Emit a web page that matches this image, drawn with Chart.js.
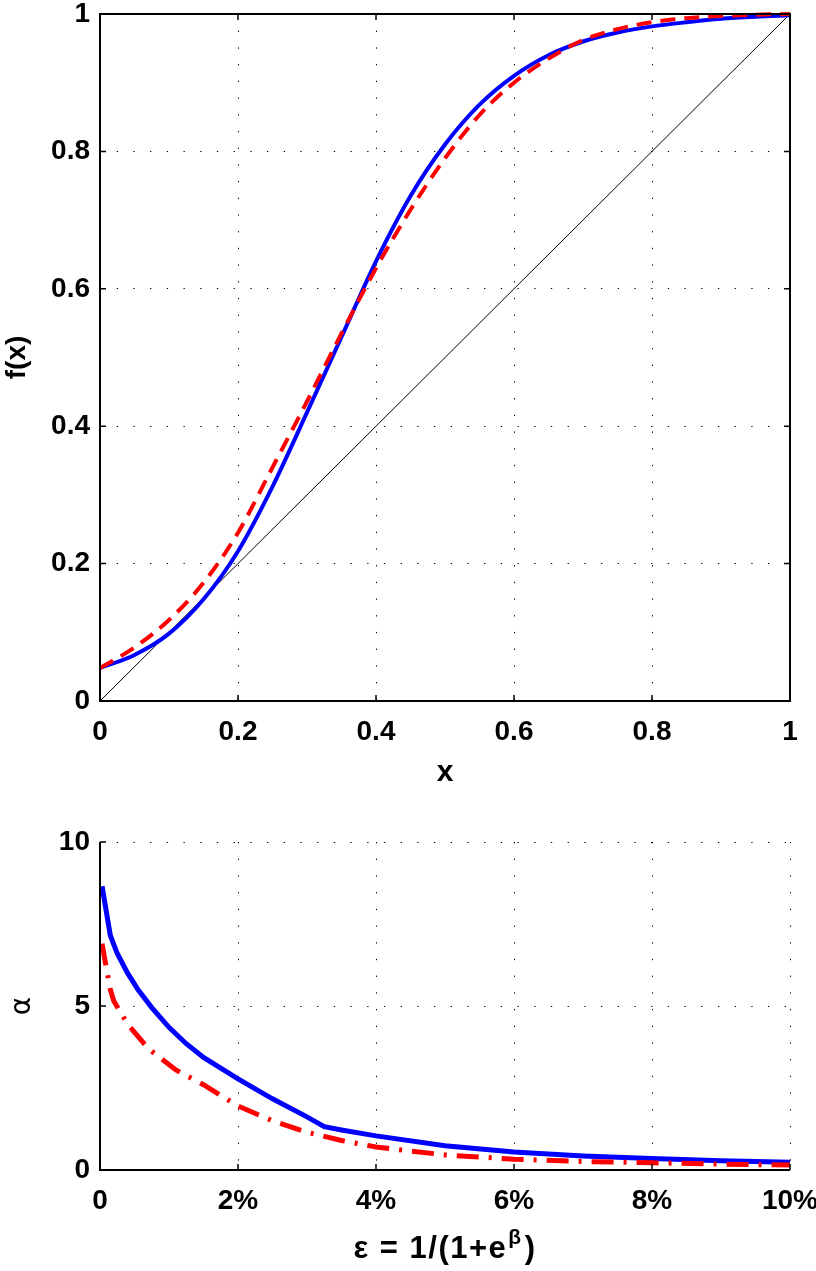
<!DOCTYPE html>
<html><head><meta charset="utf-8">
<script src="https://cdn.jsdelivr.net/npm/chart.js@4.4.0/dist/chart.umd.min.js"></script>
<style>
html,body{margin:0;padding:0;background:#fff;}
#wrap{position:relative;width:816px;height:1271px;overflow:hidden;background:#fff;}
#c1{position:absolute;left:0;top:0;}
#c2{position:absolute;left:0;top:810px;}
</style></head><body>
<div id="wrap"><canvas id="c1" width="816" height="810"></canvas><canvas id="c2" width="816" height="461"></canvas></div>
<script>
// ---- top chart data ----
const topX    = [0,0.05,0.1,0.15,0.2,0.25,0.3,0.35,0.4,0.45,0.5,0.55,0.6,0.65,0.7,0.75,0.8,0.85,0.9,0.95,1];
const topBlue = [0.048,0.067,0.098,0.148,0.218,0.312,0.42,0.53,0.64,0.735,0.81,0.868,0.91,0.94,0.96,0.973,0.982,0.988,0.993,0.996,0.998];
const topRed  = [0.048,0.078,0.118,0.172,0.245,0.34,0.436,0.535,0.63,0.715,0.79,0.853,0.9,0.935,0.962,0.978,0.988,0.994,0.997,0.999,1.0];
const diagX = [0,1];
const diagY = [0,1];
const topTicks = [0,0.2,0.4,0.6,0.8,1];
const topTickLabels = ['0','0.2','0.4','0.6','0.8','1'];
const topXTitle = 'x';
const topYTitle = 'f(x)';

// ---- bottom chart data ----
const epsBlue   = [0.03,0.15,0.25,0.4,0.55,0.75,1.0,1.25,1.5,2.0,2.5,3.0,3.25,3.5,4.0,5.0,6.0,7.0,8.0,9.0,10.0];
const alphaBlue = [8.65,7.15,6.6,6.0,5.5,4.95,4.35,3.85,3.43,2.78,2.17,1.62,1.32,1.22,1.04,0.74,0.55,0.43,0.35,0.28,0.24];
const epsRed    = [0.03,0.08,0.15,0.2,0.4,0.7,1.1,1.5,2.0,2.5,3.0,3.5,4.0,5.0,6.0,7.0,8.0,9.0,10.0];
const alphaRed  = [6.9,6.3,5.5,5.15,4.45,3.7,3.05,2.6,1.95,1.5,1.15,0.9,0.7,0.46,0.33,0.26,0.22,0.18,0.15];
const epsTicks = [0,2,4,6,8,10];
const epsTickLabels = ['0','2%','4%','6%','8%','10%'];
const alphaTicks = [0,5,10];
const alphaTickLabels = ['0','5','10'];
const alphaTitle = 'α';
const epsTitleParts = ['ε = 1/(1+e', 'β', ')'];

const pts = (xs, ys) => xs.map((x, i) => ({x: x, y: ys[i]}));
const FONT = '"Liberation Sans", Arial, Helvetica, sans-serif';

const frame = {
  id: 'frame',
  afterDatasetsDraw(chart, args, opts) {
    const {ctx, chartArea: a, scales: {x, y}} = chart;
    const L = 6;
    ctx.save();
    ctx.strokeStyle = '#000';
    ctx.lineWidth = 1.5;
    ctx.beginPath();
    x.ticks.forEach(t => {
      const p = x.getPixelForValue(t.value);
      ctx.moveTo(p, a.bottom); ctx.lineTo(p, a.bottom - L);
      if (opts.box) { ctx.moveTo(p, a.top); ctx.lineTo(p, a.top + L); }
    });
    y.ticks.forEach(t => {
      const p = y.getPixelForValue(t.value);
      ctx.moveTo(a.left, p); ctx.lineTo(a.left + L, p);
      if (opts.box) { ctx.moveTo(a.right, p); ctx.lineTo(a.right - L, p); }
    });
    ctx.stroke();
    ctx.lineWidth = 2;
    ctx.beginPath();
    if (opts.box) {
      ctx.rect(a.left, a.top, a.right - a.left, a.bottom - a.top);
    } else {
      ctx.moveTo(a.left, a.top); ctx.lineTo(a.left, a.bottom); ctx.lineTo(a.right, a.bottom);
    }
    ctx.stroke();
    ctx.restore();
  }
};

const epsTitle = {
  id: 'epsTitle',
  afterDraw(chart) {
    const {ctx, chartArea: a} = chart;
    const base = a.bottom + 88;
    const f1 = 'bold 31px ' + FONT;
    const f2 = 'bold 21px ' + FONT;
    const [p1, p2, p3] = epsTitleParts;
    ctx.save();
    ctx.fillStyle = '#000';
    ctx.textBaseline = 'alphabetic';
    ctx.textAlign = 'left';
    try { ctx.letterSpacing = '1.5px'; } catch (e) {}
    ctx.font = f1; const w1 = ctx.measureText(p1).width; const w3 = ctx.measureText(p3).width;
    ctx.font = f2; const w2 = ctx.measureText(p2).width;
    let xx = (a.left + a.right) / 2 - (w1 + w2 + w3 + 3) / 2;
    ctx.font = f1; ctx.fillText(p1, xx, base); xx += w1 + 1;
    ctx.font = f2; ctx.fillText(p2, xx, base - 14); xx += w2 + 2;
    ctx.font = f1; ctx.fillText(p3, xx, base);
    ctx.restore();
  }
};

const gridCommon = {color: '#000', lineWidth: 1, drawTicks: false};
const borderCommon = {display: false, dash: [1.3, 15.4]};

// ---- top chart ----
new Chart(document.getElementById('c1'), {
  type: 'line',
  data: {
    datasets: [
      {data: pts(topX, topRed), borderColor: '#ff0000', borderWidth: 4, borderDash: [15, 9],
       cubicInterpolationMode: 'monotone', pointRadius: 0, clip: false, order: 0},
      {data: pts(topX, topBlue), borderColor: '#0000ff', borderWidth: 4,
       cubicInterpolationMode: 'monotone', pointRadius: 0, clip: false, order: 1},
      {data: pts(diagX, diagY), borderColor: '#000', borderWidth: 1, pointRadius: 0, clip: false, order: 2}
    ]
  },
  options: {
    responsive: false, animation: false, devicePixelRatio: 1,
    layout: {padding: {top: 14, right: 26, bottom: 0, left: 0}, autoPadding: false},
    plugins: {legend: {display: false}, tooltip: {enabled: false}, frame: {box: true}},
    scales: {
      x: {
        type: 'linear', min: 0, max: 1,
        afterBuildTicks: s => { s.ticks = topTicks.map(v => ({value: v})); },
        afterFit: s => { s.height = 109; s.paddingLeft = 0; s.paddingRight = 0; },
        ticks: {padding: 14, color: '#000', font: {family: FONT, size: 28, weight: 'bold'},
                maxRotation: 0, callback: v => topTickLabels[topTicks.indexOf(v)]},
        grid: gridCommon, border: borderCommon,
        title: {display: true, text: topXTitle, color: '#000', font: {family: FONT, size: 30, weight: 'bold'},
                padding: {top: 0, bottom: 19}}
      },
      y: {
        type: 'linear', min: 0, max: 1,
        afterBuildTicks: s => { s.ticks = topTicks.map(v => ({value: v})); },
        afterFit: s => { s.width = 100; s.paddingTop = 0; s.paddingBottom = 0; },
        ticks: {padding: 10, color: '#000', font: {family: FONT, size: 28, weight: 'bold'},
                callback: v => topTickLabels[topTicks.indexOf(v)]},
        grid: gridCommon, border: borderCommon,
        title: {display: true, text: topYTitle, color: '#000', font: {family: FONT, size: 28, weight: 'bold'},
                padding: {top: 0, bottom: 0}}
      }
    }
  },
  plugins: [frame]
});

// ---- bottom chart ----
new Chart(document.getElementById('c2'), {
  type: 'line',
  data: {
    datasets: [
      {data: pts(epsRed, alphaRed), borderColor: '#ff0000', borderWidth: 5, borderDash: [22, 10, 3, 10],
       tension: 0, pointRadius: 0, clip: false, order: 0},
      {data: pts(epsBlue, alphaBlue), borderColor: '#0000ff', borderWidth: 5,
       tension: 0, pointRadius: 0, clip: false, order: 1}
    ]
  },
  options: {
    responsive: false, animation: false, devicePixelRatio: 1,
    layout: {padding: {top: 32, right: 26, bottom: 0, left: 0}, autoPadding: false},
    plugins: {legend: {display: false}, tooltip: {enabled: false}, frame: {box: false}},
    scales: {
      x: {
        type: 'linear', min: 0, max: 10,
        afterBuildTicks: s => { s.ticks = epsTicks.map(v => ({value: v})); },
        afterFit: s => { s.height = 101; s.paddingLeft = 0; s.paddingRight = 0; },
        ticks: {padding: 14, color: '#000', font: {family: FONT, size: 28, weight: 'bold'},
                maxRotation: 0, callback: v => epsTickLabels[epsTicks.indexOf(v)]},
        grid: gridCommon, border: borderCommon
      },
      y: {
        type: 'linear', min: 0, max: 10,
        afterBuildTicks: s => { s.ticks = alphaTicks.map(v => ({value: v})); },
        afterFit: s => { s.width = 100; s.paddingTop = 0; s.paddingBottom = 0; },
        ticks: {padding: 10, color: '#000', font: {family: FONT, size: 28, weight: 'bold'},
                callback: v => alphaTickLabels[alphaTicks.indexOf(v)]},
        grid: gridCommon, border: borderCommon,
        title: {display: true, text: alphaTitle, color: '#000', font: {family: '"DejaVu Sans", sans-serif', size: 28, weight: 'normal'},
                padding: {top: 6, bottom: 0}}
      }
    }
  },
  plugins: [frame, epsTitle]
});
</script>
</body></html>
